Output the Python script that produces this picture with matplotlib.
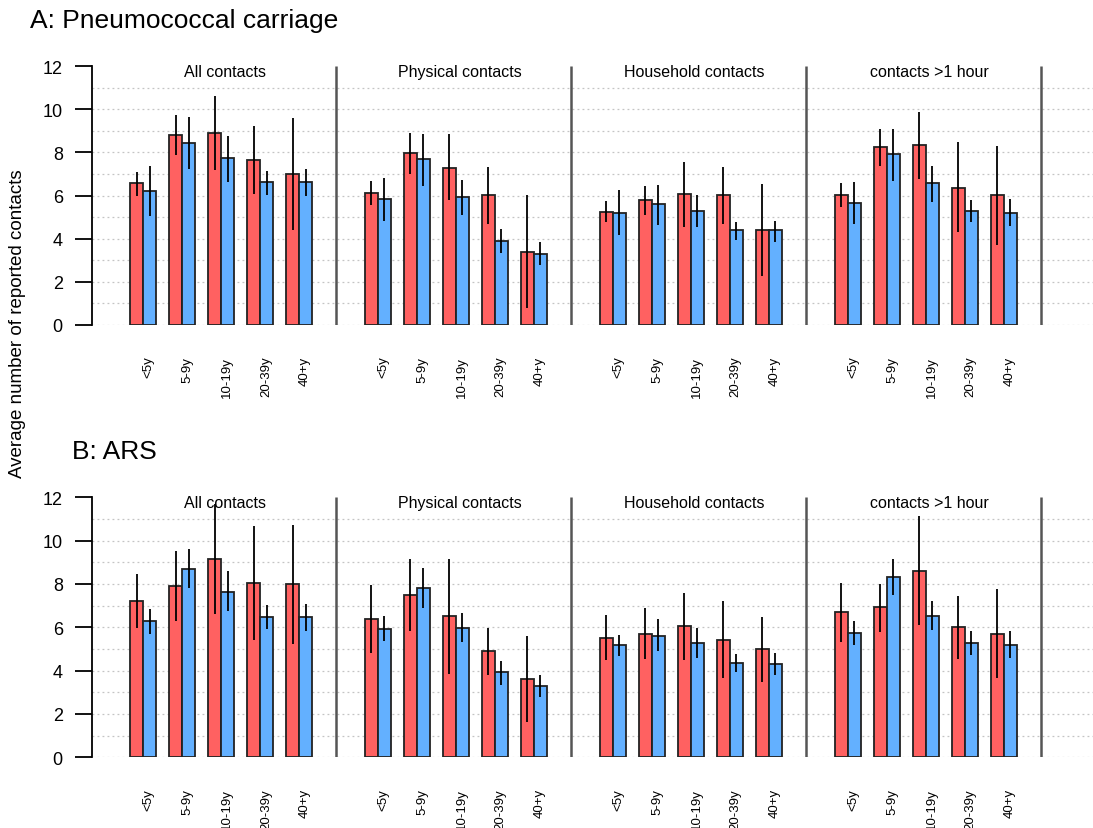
import numpy as np
import matplotlib.pyplot as plt

plt.rcParams['font.family'] = ['Liberation Sans', 'DejaVu Sans']

groups = ["All contacts", "Physical contacts", "Household contacts", "contacts >1 hour"]
ages = ["<5y", "5-9y", "10-19y", "20-39y", "40+y"]

# A: Pneumococcal carriage (rows = groups, cols = age)
a_red = [[6.58, 8.81, 8.90, 7.63, 7.00],
         [6.12, 7.97, 7.29, 6.02, 3.39],
         [5.25, 5.78, 6.09, 6.02, 4.41],
         [6.02, 8.27, 8.32, 6.36, 6.02]]
a_red_lo = [[5.99, 7.87, 7.17, 6.07, 4.41],
            [5.56, 6.98, 5.81, 4.69, 0.77],
            [4.78, 5.11, 4.54, 4.69, 2.29],
            [5.47, 7.36, 6.77, 4.29, 3.72]]
a_red_hi = [[7.09, 9.74, 10.62, 9.21, 9.60],
            [6.67, 8.90, 8.83, 7.31, 6.04],
            [5.74, 6.43, 7.56, 7.31, 6.53],
            [6.58, 9.10, 9.88, 8.49, 8.28]]
a_blue = [[6.22, 8.42, 7.73, 6.61, 6.61],
          [5.84, 7.68, 5.92, 3.87, 3.30],
          [5.19, 5.59, 5.30, 4.38, 4.38],
          [5.64, 7.93, 6.57, 5.30, 5.19]]
a_blue_lo = [[5.03, 7.22, 6.64, 6.01, 5.96],
             [4.80, 6.44, 5.08, 3.33, 2.79],
             [4.15, 4.65, 4.54, 3.96, 3.86],
             [4.68, 6.69, 5.71, 4.78, 4.57]]
a_blue_hi = [[7.36, 9.65, 8.76, 7.15, 7.25],
             [6.81, 8.86, 6.72, 4.43, 3.84],
             [6.24, 6.49, 6.04, 4.77, 4.82],
             [6.61, 9.10, 7.36, 5.79, 5.84]]

# B: ARS
b_red = [[7.22, 7.89, 9.14, 8.03, 7.98],
         [6.38, 7.51, 6.52, 4.89, 3.63],
         [5.52, 5.71, 6.05, 5.43, 4.98],
         [6.72, 6.92, 8.62, 6.00, 5.71]]
b_red_lo = [[5.97, 6.31, 6.62, 5.42, 5.25],
            [4.82, 5.85, 3.85, 3.80, 1.62],
            [4.48, 4.52, 4.48, 3.65, 3.49],
            [5.34, 5.80, 6.12, 4.54, 3.66]]
b_red_hi = [[8.45, 9.51, 11.69, 10.66, 10.72],
            [7.95, 9.17, 9.17, 5.97, 5.58],
            [6.55, 6.89, 7.58, 7.23, 6.46],
            [8.05, 8.00, 11.15, 7.43, 7.77]]
b_blue = [[6.29, 8.71, 7.65, 6.49, 6.49],
          [5.91, 7.83, 5.95, 3.92, 3.29],
          [5.17, 5.62, 5.28, 4.35, 4.31],
          [5.75, 8.32, 6.52, 5.28, 5.17]]
b_blue_lo = [[5.69, 7.82, 6.75, 5.92, 5.85],
             [5.35, 6.89, 5.31, 3.35, 2.78],
             [4.68, 4.91, 4.57, 3.94, 3.80],
             [5.20, 7.49, 5.88, 4.74, 4.58]]
b_blue_hi = [[6.85, 9.62, 8.58, 7.03, 7.08],
             [6.51, 8.74, 6.65, 4.43, 3.80],
             [5.63, 6.37, 5.97, 4.75, 4.82],
             [6.28, 9.17, 7.23, 5.83, 5.83]]

RED = '#FF6161'
BLUE = '#63B0FF'
GOFF = 18.07   # offset between groups
PSTEP = 3.0    # offset between age pairs

W, H = 1093, 829
fig = plt.figure(figsize=(W / 100, H / 100), dpi=100)


def make_axes(ytop, ybot):
    ax = fig.add_axes([92 / W, 1 - ybot / H, (W - 92) / W, (ybot - ytop) / H])
    ax.set_xlim(-38 / 13, 963 / 13)
    ax.set_ylim(0, 12)
    return ax


def draw_panel(ax, red, rlo, rhi, blue, blo, bhi):
    for y in range(0, 12):
        ax.axhline(y, color='#c4c4c4', lw=0.9, ls=(0, (1.5, 2.5)), zorder=0)
    for g in range(4):
        x0 = g * GOFF + np.arange(5) * PSTEP
        ax.bar(x0 + 0.5, red[g], width=1, color=RED, edgecolor='#222222', lw=1.3, zorder=2)
        ax.bar(x0 + 1.5, blue[g], width=1, color=BLUE, edgecolor='#222222', lw=1.3, zorder=2)
        ax.vlines(x0 + 0.5, rlo[g], rhi[g], color='black', lw=1.3, zorder=3)
        ax.vlines(x0 + 1.5, blo[g], bhi[g], color='black', lw=1.3, zorder=3)
        ax.vlines(15.85 + g * GOFF, 0, 12, color='#555555', lw=1.8, zorder=1)
        ax.text(g * GOFF + 7.3, 11.75, groups[g], ha='center', va='center', fontsize=11.5)
        for i, lab in enumerate(ages):
            ax.text(x0[i] + 1.45, -1.42, lab, rotation=90, ha='center', va='top',
                    fontsize=9.5, clip_on=False)
    for s in ['top', 'right', 'bottom']:
        ax.spines[s].set_visible(False)
    ax.spines['left'].set_linewidth(1.3)
    ax.spines['left'].set_bounds(0, 12)
    ax.set_xticks([])
    ax.set_yticks(range(0, 13, 2))
    ax.tick_params(axis='y', length=12, width=1.3, pad=9, labelsize=13)


ax1 = make_axes(67, 326)
draw_panel(ax1, a_red, a_red_lo, a_red_hi, a_blue, a_blue_lo, a_blue_hi)
ax2 = make_axes(498.3, 758.3)
draw_panel(ax2, b_red, b_red_lo, b_red_hi, b_blue, b_blue_lo, b_blue_hi)

fig.text(30 / W, 1 - 21 / H, "A: Pneumococcal carriage", fontsize=19, ha='left', va='center')
fig.text(72 / W, 1 - 452 / H, "B: ARS", fontsize=19, ha='left', va='center')
fig.text(18 / W, 1 - 324 / H, "Average number of reported contacts", rotation=90,
         fontsize=13.5, ha='center', va='center')

fig.savefig('out.png', dpi=100)
